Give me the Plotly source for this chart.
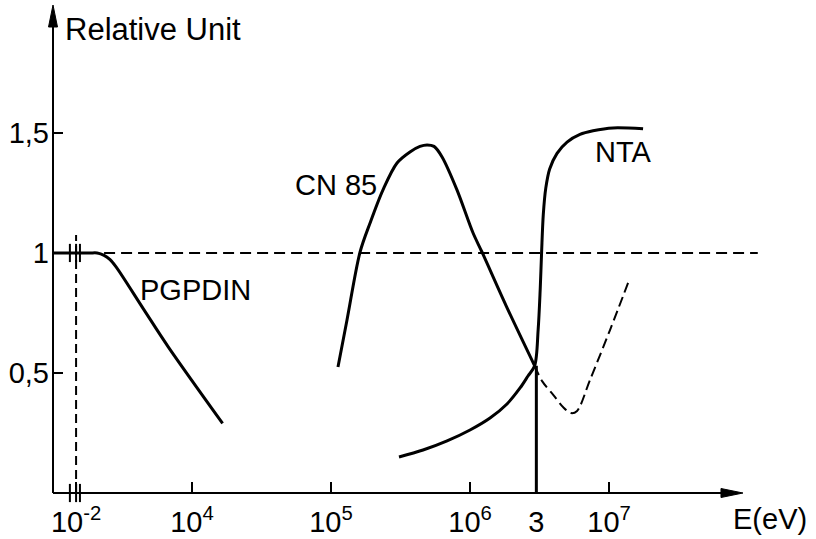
import math
import plotly.graph_objects as go

# ---------------------------------------------------------------------------
# Data: energies as log10(E / eV), responses in relative units
# ---------------------------------------------------------------------------
pgpdin_lgE = [-3.19, -2.05, -1.28, -0.91, -0.55, -0.24, 0.07, 1.5, 2.76, 4.22]
pgpdin_rel = [1.0, 1.0, 1.0, 1.0, 0.99, 0.972, 0.942, 0.765, 0.61, 0.29]

cn85_lgE = [5.05, 5.115, 5.209, 5.281, 5.374, 5.475, 5.568, 5.64, 5.691,
            5.741, 5.799, 5.906, 6.022, 6.086, 6.26, 6.465]
cn85_rel = [0.525, 0.721, 1.004, 1.125, 1.263, 1.375, 1.421, 1.444, 1.45,
            1.444, 1.40, 1.263, 1.083, 1.004, 0.78, 0.53]

# extrapolated continuation of CN 85 (dashed)
cn85_ext_lgE = [6.465, 6.52, 6.60, 6.669, 6.727, 6.77, 6.863, 7.007, 7.137]
cn85_ext_rel = [0.53, 0.465, 0.408, 0.358, 0.333, 0.342, 0.471, 0.679, 0.875]

nta_lgE = [5.489, 5.662, 5.835, 6.0, 6.144, 6.266, 6.36, 6.417, 6.465, 6.49,
           6.505, 6.515, 6.527, 6.545, 6.573, 6.626, 6.698, 6.791, 6.885,
           7.029, 7.245]
nta_rel = [0.15, 0.179, 0.217, 0.2625, 0.3125, 0.371, 0.4375, 0.4875, 0.53,
           0.68, 0.85, 1.004, 1.16, 1.27, 1.35, 1.415, 1.462, 1.494,
           1.509, 1.521, 1.517]

ref_lgE = [-3.19, 8.07]          # unit-response reference line
ref_rel = [1.0, 1.0]

low_mark_lgE = -2.0              # 10^-2 eV marker
low_mark_top = 1.075
split_lgE = math.log10(3e6)      # 3 MeV boundary
split_top = 0.53

break_lgE = [-2.32, -2.0, -1.80]  # axis-break strokes

xtick_lgE = [-2, 4, 5, 6, split_lgE, 7]
xtick_text = ["10<sup>-2</sup>", "10<sup>4</sup>", "10<sup>5</sup>",
              "10<sup>6</sup>", "3", "10<sup>7</sup>"]
ytick_vals = [0.5, 1.0, 1.5]
ytick_text = ["0,5", "1", "1,5"]

# ---------------------------------------------------------------------------
# Broken energy axis: full decades above 10^4 eV, compressed below
# ---------------------------------------------------------------------------
BREAK_LG = 4.0
BREAK_SCALE = 0.139


def axis_pos(lg):
    if lg >= BREAK_LG:
        return lg
    return BREAK_LG - (BREAK_LG - lg) * BREAK_SCALE


def to_pos(values):
    return [axis_pos(v) for v in values]


X_RANGE = [3.0, 8.158]
Y_RANGE = [0.0, 2.033]
FONT = "Liberation Sans, Arial, DejaVu Sans, sans-serif"
INK = "black"

fig = go.Figure()


def line(xs, ys, width=3, dash="solid", smooth=True):
    fig.add_trace(go.Scatter(
        x=to_pos(xs), y=ys, mode="lines",
        line=dict(color=INK, width=width, dash=dash,
                  shape="spline" if smooth else "linear", smoothing=0.9),
        hoverinfo="skip", showlegend=False))


line(ref_lgE, ref_rel, width=2, dash="11px,6px", smooth=False)
line([low_mark_lgE, low_mark_lgE], [0, low_mark_top], width=2,
     dash="9px,5px", smooth=False)
line(pgpdin_lgE, pgpdin_rel)
line(cn85_lgE, cn85_rel)
line(cn85_ext_lgE, cn85_ext_rel, width=2, dash="10px,5px")
line(nta_lgE, nta_rel)
line([split_lgE, split_lgE], [0, split_top], width=3, smooth=False)

# small break strokes on the reference line and on the energy axis
fig.add_trace(go.Scatter(
    x=to_pos(break_lgE * 2), y=[1.0] * 3 + [0.0] * 3, mode="markers",
    marker=dict(symbol="line-ns", size=13, color=INK,
                line=dict(color=INK, width=2)),
    cliponaxis=False, hoverinfo="skip", showlegend=False))

# axis lines with arrowheads (paper coordinates)
PLOT_W, PLOT_H = 717, 488
x_tip = 0.9623
fig.add_shape(type="line", xref="paper", yref="paper", x0=0, y0=0,
              x1=x_tip - 10 / PLOT_W, y1=0, line=dict(color=INK, width=2))
fig.add_shape(type="line", xref="paper", yref="paper", x0=0, y0=0,
              x1=0, y1=1 - 10 / PLOT_H, line=dict(color=INK, width=2))
hx, hy = 22 / PLOT_W, 4.5 / PLOT_H
fig.add_shape(type="path", xref="paper", yref="paper",
              path=f"M {x_tip},0 L {x_tip - hx},{hy} L {x_tip - hx},{-hy} Z",
              fillcolor=INK, line=dict(color=INK, width=1))
vx, vy = 4.5 / PLOT_W, 22 / PLOT_H
fig.add_shape(type="path", xref="paper", yref="paper",
              path=f"M 0,1 L {vx},{1 - vy} L {-vx},{1 - vy} Z",
              fillcolor=INK, line=dict(color=INK, width=1))

# curve labels and axis titles
label_font = dict(family=FONT, size=29, color=INK)
for text, lg, rel in [("CN 85", 5.036, 1.283), ("NTA", 7.101, 1.421),
                      ("PGPDIN", 4.022, 0.846)]:
    fig.add_annotation(x=axis_pos(lg), y=rel, text=text, showarrow=False,
                       font=label_font, xanchor="center", yanchor="middle")

fig.add_annotation(xref="paper", yref="paper", x=0.014, y=0.949,
                   text="Relative Unit", showarrow=False,
                   font=dict(family=FONT, size=31, color=INK),
                   xanchor="left", yanchor="middle")
fig.add_annotation(xref="paper", yref="paper", x=1.0, y=-0.053,
                   text="E(eV)", showarrow=False, font=label_font,
                   xanchor="center", yanchor="middle")

fig.update_xaxes(range=X_RANGE, showgrid=False, zeroline=False,
                 showline=False, tickmode="array", automargin=False,
                 tickvals=to_pos(xtick_lgE), ticktext=xtick_text,
                 ticks="inside", ticklen=11, tickwidth=2, tickcolor=INK,
                 ticklabelstandoff=9,
                 tickfont=dict(family=FONT, size=29, color=INK))
fig.update_yaxes(range=Y_RANGE, showgrid=False, zeroline=False,
                 showline=False, tickmode="array", automargin=False,
                 tickvals=ytick_vals, ticktext=ytick_text,
                 ticks="inside", ticklen=10, tickwidth=2, tickcolor=INK,
                 ticklabelstandoff=3,
                 tickfont=dict(family=FONT, size=29, color=INK))

fig.update_layout(width=816, height=539,
                  margin=dict(l=53, r=46, t=5, b=46, autoexpand=False),
                  paper_bgcolor="white", plot_bgcolor="white",
                  showlegend=False)

fig.write_html("out.html")
